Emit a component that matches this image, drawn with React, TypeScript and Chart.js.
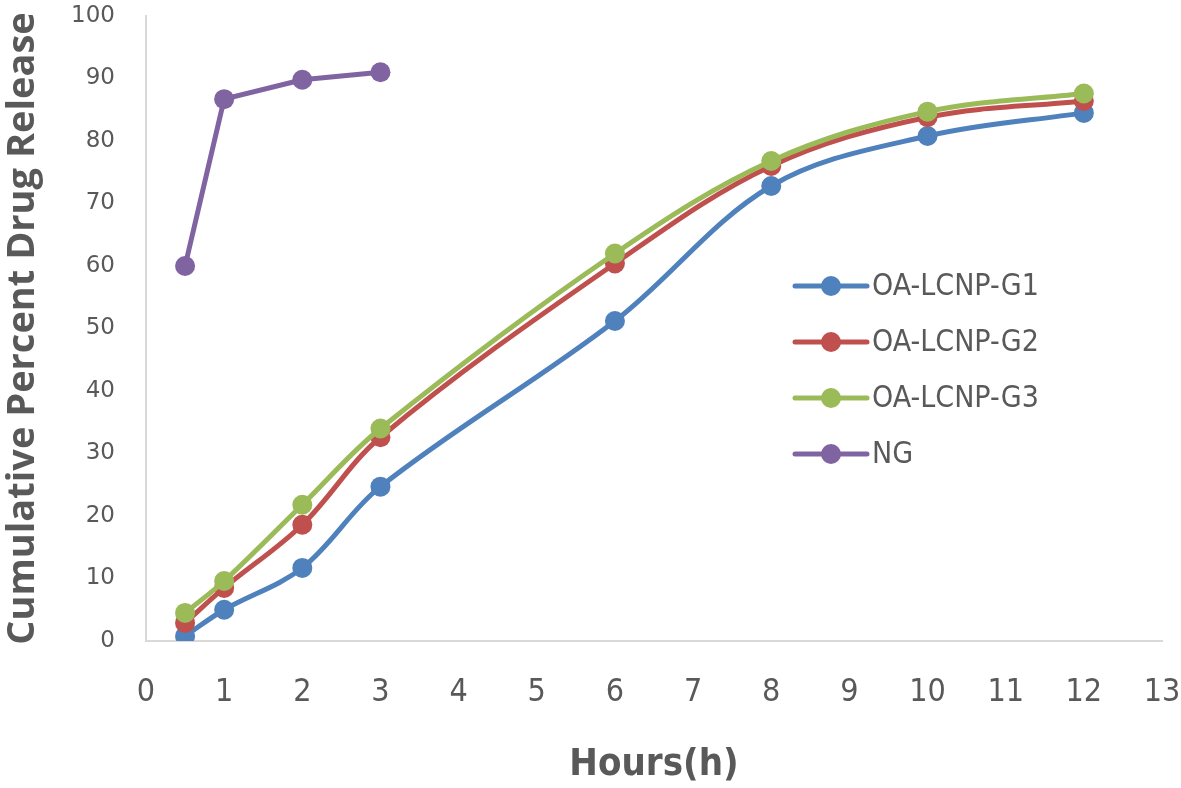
import React, { useEffect, useRef } from "react";
import { Chart, registerables } from "chart.js";

Chart.register(...registerables);

const hours = [0.5, 1, 2, 3, 6, 8, 10, 12];
const ngHours = [0.5, 1, 2, 3];
const g1 = [0.8, 5, 11.7, 24.7, 51.2, 72.8, 80.8, 84.5];
const g2 = [2.9, 8.5, 18.6, 32.6, 60.4, 76, 83.8, 86.4];
const g3 = [4.5, 9.6, 21.8, 34, 62, 76.8, 84.7, 87.6];
const ng = [60, 86.7, 89.8, 91];
const seriesNames = ["OA-LCNP-G1", "OA-LCNP-G2", "OA-LCNP-G3", "NG"];
const seriesColors = ["#4F81BD", "#C0504D", "#9BBB59", "#8064A2"];

const toPoints = (xs: number[], ys: number[]) => xs.map((x, i) => ({ x, y: ys[i] }));

const GREY = "#595959";
const NARROW = '"Liberation Sans Narrow", "DejaVu Sans Condensed", "Roboto Condensed", Roboto, sans-serif';

const legendPlugin = {
  id: "customLegend",
  afterDraw(chart: any) {
    const ctx = chart.ctx;
    const x0 = 795;
    const x1 = 867;
    const startY = 286;
    const step = 56;
    ctx.save();
    chart.data.datasets.forEach((ds: any, i: number) => {
      const y = startY + i * step;
      ctx.strokeStyle = ds.borderColor;
      ctx.lineWidth = 5;
      ctx.lineCap = "round";
      ctx.beginPath();
      ctx.moveTo(x0, y);
      ctx.lineTo(x1, y);
      ctx.stroke();
      ctx.fillStyle = ds.backgroundColor;
      ctx.beginPath();
      ctx.arc((x0 + x1) / 2, y, 10, 0, Math.PI * 2);
      ctx.fill();
      ctx.fillStyle = GREY;
      ctx.font = `30px ${NARROW}`;
      ctx.textBaseline = "middle";
      ctx.textAlign = "left";
      ctx.fillText(ds.label, x1 + 5, y + 1);
    });
    ctx.restore();
  },
};

export default function App() {
  const ref = useRef<HTMLCanvasElement | null>(null);

  useEffect(() => {
    if (!ref.current) return;
    const seriesData = [toPoints(hours, g1), toPoints(hours, g2), toPoints(hours, g3), toPoints(ngHours, ng)];
    const chart = new Chart(ref.current, {
      type: "line",
      data: {
        datasets: seriesData.map((d, i) => ({
          label: seriesNames[i],
          data: d,
          borderColor: seriesColors[i],
          backgroundColor: seriesColors[i],
          pointBackgroundColor: seriesColors[i],
          pointBorderWidth: 0,
          pointRadius: 10,
          borderWidth: 5,
          tension: i === 3 ? 0 : 0.35,
          order: 3 - i,
          fill: false,
        })),
      },
      options: {
        animation: false,
        responsive: false,
        layout: { padding: { top: 16, right: 19, left: 0, bottom: 0 } },
        plugins: {
          legend: { display: false },
          tooltip: { enabled: false },
        },
        scales: {
          x: {
            type: "linear",
            min: 0,
            max: 13,
            ticks: {
              stepSize: 1,
              color: GREY,
              font: { size: 32, family: NARROW },
              padding: 32,
            },
            grid: { display: false, drawTicks: false },
            border: { display: true, color: "#D9D9D9", width: 2 },
            title: {
              display: true,
              text: "Hours(h)",
              color: GREY,
              font: { size: 38, weight: "bold", family: NARROW },
              padding: { top: 0, bottom: 0 },
            },
            afterFit(scale: any) {
              scale.height = 147;
              scale.paddingLeft = 0;
              scale.paddingRight = 0;
            },
          },
          y: {
            type: "linear",
            min: 0,
            max: 100,
            ticks: {
              stepSize: 10,
              color: GREY,
              font: { size: 23, family: '"DejaVu Sans", sans-serif' },
              padding: 31,
            },
            grid: { display: false, drawTicks: false },
            border: { display: true, color: "#D9D9D9", width: 2 },
            title: {
              display: true,
              text: "Cumulative Percent Drug Release",
              color: GREY,
              font: { size: 38, weight: "bold", family: '"Open Sans", sans-serif' },
              padding: { top: 0, bottom: 0 },
            },
            afterFit(scale: any) {
              scale.width = 146;
              scale.paddingTop = 0;
              scale.paddingBottom = 0;
            },
          },
        },
      },
      plugins: [legendPlugin],
    });
    return () => chart.destroy();
  }, []);

  return (
    <div style={{ position: "absolute", left: 0, top: 0, width: 1181, height: 788, background: "#fff" }}>
      <canvas ref={ref} width={1181} height={788} style={{ display: "block" }} />
    </div>
  );
}
